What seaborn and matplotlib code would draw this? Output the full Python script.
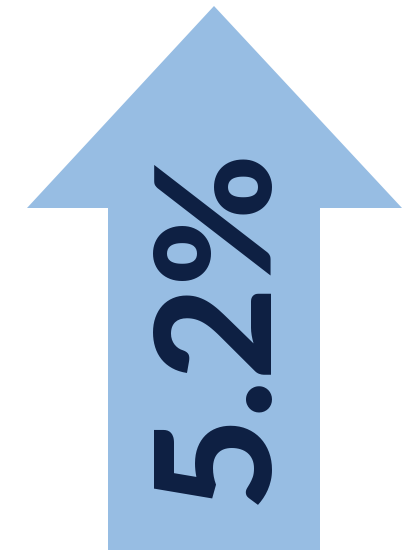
import matplotlib
matplotlib.use("Agg")
import matplotlib.pyplot as plt
import seaborn as sns

# data
change_value = 5.2
change_label = f"{change_value}%"

ARROW_COLOR = "#97BDE3"
TEXT_COLOR = "#0D1F42"

sns.set_theme(style="white")
plt.rcParams["font.family"] = ["Lato", "DejaVu Sans"]

fig = plt.figure(figsize=(4.09, 5.50), dpi=100)
ax = fig.add_axes([0, 0, 1, 1])
ax.set_xlim(0, 409)
ax.set_ylim(0, 550)

# arrow shape (shaft + head), up arrow for a positive change
shaft_l, shaft_r, head_l, head_r, tip_x = 108, 320, 27, 402, 214
head_base, tip_y = 342, 544
xs = [shaft_l, shaft_l, head_l, tip_x, head_r, shaft_r, shaft_r]
ys = [0, head_base, head_base, tip_y, head_base, head_base, 0]
ax.fill(xs, ys, color=ARROW_COLOR, lw=0)

ax.text(219, 225, change_label, rotation=90, ha="center", va="center",
        fontsize=116, fontweight="black", color=TEXT_COLOR)

ax.axis("off")
fig.savefig("out.png", dpi=100)
